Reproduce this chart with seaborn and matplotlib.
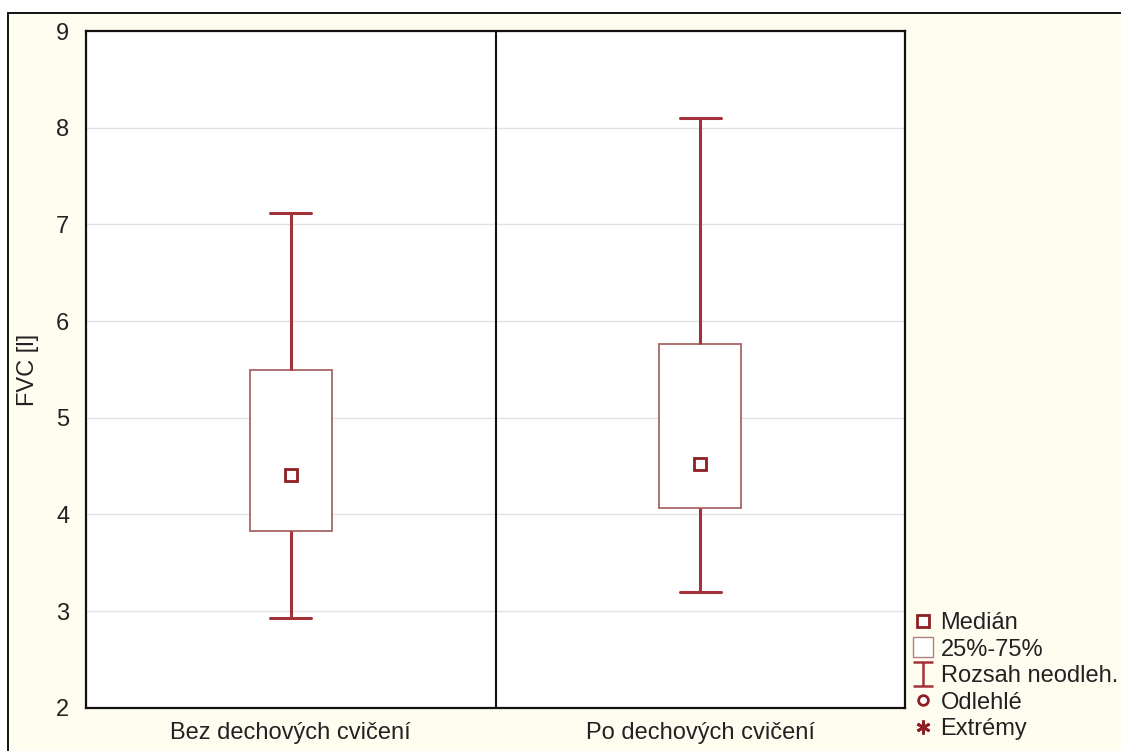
import numpy as np
import pandas as pd
import matplotlib
matplotlib.use("Agg")
import matplotlib.pyplot as plt
import seaborn as sns
from matplotlib.patches import Rectangle
from matplotlib.lines import Line2D
from matplotlib.path import Path

# ---- data ----
groups = ["Bez dechových cvičení", "Po dechových cvičení"]
whisk_lo = [2.93, 3.20]
q1 = [3.83, 4.07]
median = [4.41, 4.52]
q3 = [5.49, 5.76]
whisk_hi = [7.12, 8.10]
y_ticks = [2, 3, 4, 5, 6, 7, 8, 9]
y_label = "FVC [l]"
legend_labels = ["Medián", "25%-75%", "Rozsah neodleh.", "Odlehlé", "Extrémy"]

# five-number summaries -> table (quantiles of these five points reproduce the summary exactly)
rows = []
for g, a, b, c, d, e in zip(groups, whisk_lo, q1, median, q3, whisk_hi):
    for v in (a, b, c, d, e):
        rows.append({"skupina": g, "FVC": v})
df = pd.DataFrame(rows)

sns.set_theme(style="white")
plt.rcParams["font.family"] = ["Liberation Sans", "DejaVu Sans"]

W, H = 1121, 751
fig = plt.figure(figsize=(W / 100, H / 100), dpi=100, facecolor="white")

# outer cream frame
fig.add_artist(Rectangle((8 / W, -0.05), 1.0, (H - 13) / H + 0.05,
                         transform=fig.transFigure, facecolor="#FFFDF0",
                         edgecolor="black", lw=1.3, zorder=-1))

ax = fig.add_axes([86 / W, 1 - 707.7 / H, (905 - 86) / W, (707.7 - 31) / H])
ax.set_facecolor("white")

box_edge = "#A86666"
whisk_col = "#A3323A"
dark = "#8E1F24"
FS = 17

sns.boxplot(data=df, x="skupina", y="FVC", whis=np.inf, width=0.2, ax=ax,
            color="white", linecolor=box_edge, linewidth=1.3,
            boxprops=dict(facecolor="white", edgecolor=box_edge, linewidth=1.3),
            whiskerprops=dict(color=whisk_col, linewidth=2.2),
            capprops=dict(color=whisk_col, linewidth=2.2),
            medianprops=dict(visible=False), showfliers=False)

sns.pointplot(data=df, x="skupina", y="FVC", estimator="median", errorbar=None,
              linestyle="none", marker="s", color=dark, ax=ax,
              markersize=9, markerfacecolor="white", markeredgecolor=dark,
              markeredgewidth=2)

ax.set_xlim(-0.5, 1.5)
ax.set_ylim(2, 9)
ax.set_yticks(y_ticks)
ax.set_yticklabels([str(t) for t in y_ticks])
ax.yaxis.grid(True, color="#E2E2E2", lw=1)
ax.xaxis.grid(False)
ax.set_axisbelow(True)
ax.axvline(0.5, color="#111111", lw=1.5, zorder=3)

for s in ax.spines.values():
    s.set_visible(True)
    s.set_color("#111111")
    s.set_linewidth(1.6)

ax.tick_params(axis="both", direction="in", length=4, width=1.2, color="#111111",
               labelsize=FS, labelcolor="#222222")
ax.tick_params(axis="y", pad=12)
ax.tick_params(axis="x", pad=10)
ax.set_xlabel("")
ax.set_ylabel("")
fig.text(28 / W, 1 - 369.5 / H, y_label, rotation=90, ha="center", va="center",
         fontsize=FS, color="#222222")

# legend
i_path = Path([(-0.85, 1), (0.85, 1), (0, 1), (0, -1), (-0.85, -1), (0.85, -1)],
              [Path.MOVETO, Path.LINETO, Path.MOVETO, Path.LINETO, Path.MOVETO, Path.LINETO])
handles = [
    Line2D([], [], ls="none", marker="s", ms=8.5, mfc="white", mec=dark, mew=2),
    Line2D([], [], ls="none", marker="s", ms=14, mfc="white", mec="#B08080", mew=1),
    Line2D([], [], ls="none", marker=i_path, ms=17.5, mfc="none", mec=whisk_col, mew=1.8),
    Line2D([], [], ls="none", marker="o", ms=7, mfc="white", mec=dark, mew=2),
    Line2D([], [], ls="none", marker=(6, 2, 0), ms=10, mfc=dark, mec=dark, mew=2),
]
fig.legend(handles, legend_labels, loc="lower left",
           bbox_to_anchor=(911 / W, 1 - 740 / H), frameon=False,
           fontsize=FS, labelcolor="#222222", handlelength=1.0,
           handletextpad=0.25, labelspacing=0.19, borderpad=0, borderaxespad=0)

fig.savefig("out.png", dpi=100, facecolor=fig.get_facecolor())
